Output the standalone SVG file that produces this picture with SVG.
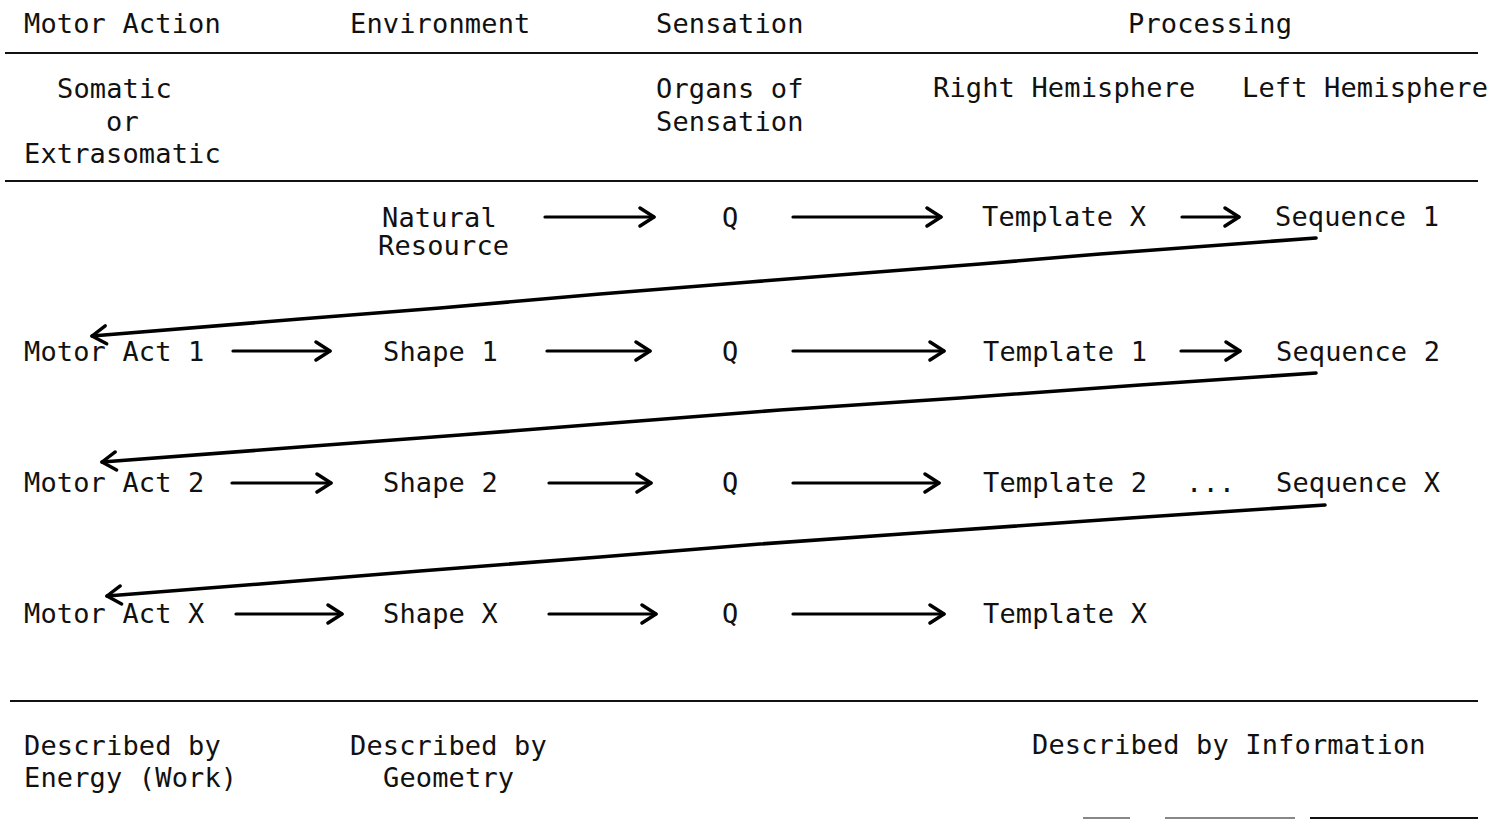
<svg xmlns="http://www.w3.org/2000/svg" width="1497" height="820" viewBox="0 0 1497 820">
<style>
text{font-family:"DejaVu Sans Mono","Liberation Mono",monospace;font-size:27px;letter-spacing:0.15px;fill:#111}
.rule{stroke:#111;stroke-width:2;fill:none}
.faint{stroke:#888;stroke-width:2;fill:none}
.arr{stroke:#000;stroke-width:3.2;fill:none;stroke-linecap:round;marker-end:url(#head)}
.ret{stroke:#000;stroke-width:3.6;fill:none;stroke-linecap:round;stroke-linejoin:round;marker-end:url(#head)}
</style>
<defs>
<marker id="head" markerUnits="userSpaceOnUse" markerWidth="24" markerHeight="24" viewBox="-2 -2 20 24" refX="14" refY="9" orient="auto">
<path d="M0,0 L14,9 L0,18" fill="none" stroke="#000" stroke-width="3.4" stroke-linecap="round" stroke-linejoin="round"/>
</marker>
</defs>
<rect width="1497" height="820" fill="#fff"/>

<g id="rules">
<line class="rule" x1="5" y1="53" x2="1478" y2="53"/>
<line class="rule" x1="5" y1="181" x2="1478" y2="181"/>
<line class="rule" x1="10" y1="701" x2="1478" y2="701"/>
<line class="faint" x1="1083" y1="818" x2="1130" y2="818"/>
<line class="faint" x1="1165" y1="818" x2="1295" y2="818"/>
<line class="rule" x1="1310" y1="818" x2="1478" y2="818"/>
</g>

<g id="headers">
<text x="24" y="33">Motor Action</text>
<text x="350" y="33">Environment</text>
<text x="656" y="33">Sensation</text>
<text x="1128" y="33">Processing</text>
<text x="57" y="98">Somatic</text>
<text x="106" y="131">or</text>
<text x="24" y="163">Extrasomatic</text>
<text x="656" y="98">Organs of</text>
<text x="656" y="131">Sensation</text>
<text x="933" y="97">Right Hemisphere</text>
<text x="1242" y="97">Left Hemisphere</text>
</g>

<g id="row1">
<g id="natural-resource"><text x="382" y="227">Natural</text><text x="378" y="255">Resource</text></g>
<g id="q1"><text x="722" y="227">Q</text></g>
<g id="template-x1"><text x="982" y="226">Template X</text></g>
<g id="sequence-1"><text x="1275" y="226">Sequence 1</text></g>
</g>

<g id="row2">
<g id="motor-act-1"><text x="24" y="361">Motor Act 1</text></g>
<g id="shape-1"><text x="383" y="361">Shape 1</text></g>
<g id="q2"><text x="722" y="361">Q</text></g>
<g id="template-1"><text x="983" y="361">Template 1</text></g>
<g id="sequence-2"><text x="1276" y="361">Sequence 2</text></g>
</g>

<g id="row3">
<g id="motor-act-2"><text x="24" y="492">Motor Act 2</text></g>
<g id="shape-2"><text x="383" y="492">Shape 2</text></g>
<g id="q3"><text x="722" y="492">Q</text></g>
<g id="template-2"><text x="983" y="492">Template 2</text></g>
<g id="ellipsis"><text x="1186" y="492">...</text></g>
<g id="sequence-x"><text x="1276" y="492">Sequence X</text></g>
</g>

<g id="row4">
<g id="motor-act-x"><text x="24" y="623">Motor Act X</text></g>
<g id="shape-x"><text x="383" y="623">Shape X</text></g>
<g id="q4"><text x="722" y="623">Q</text></g>
<g id="template-x2"><text x="983" y="623">Template X</text></g>
</g>

<g id="footers">
<text x="24" y="755">Described by</text>
<text x="24" y="787">Energy (Work)</text>
<text x="350" y="755">Described by</text>
<text x="383" y="787">Geometry</text>
<text x="1032" y="754">Described by Information</text>
</g>

<g id="connectors">
<line class="arr" x1="545" y1="217" x2="654" y2="217"/>
<line class="arr" x1="793" y1="217" x2="941" y2="217"/>
<line class="arr" x1="1182" y1="217" x2="1239" y2="217"/>

<line class="arr" x1="233" y1="351" x2="330" y2="351"/>
<line class="arr" x1="547" y1="351" x2="650" y2="351"/>
<line class="arr" x1="793" y1="351" x2="944" y2="351"/>
<line class="arr" x1="1181" y1="351" x2="1240" y2="351"/>

<line class="arr" x1="232" y1="483" x2="331" y2="483"/>
<line class="arr" x1="549" y1="483" x2="651" y2="483"/>
<line class="arr" x1="793" y1="483" x2="939" y2="483"/>

<line class="arr" x1="236" y1="614" x2="342" y2="614"/>
<line class="arr" x1="549" y1="614" x2="656" y2="614"/>
<line class="arr" x1="793" y1="614" x2="944" y2="614"/>

<path class="ret" d="M1316,238 L1100,254 L980,264 L750,282 L600,294 L440,308 L300,319 L92,336"/>
<path class="ret" d="M1316,373 L1140,385 L960,398 L780,410 L600,424 L460,435 L300,447 L102,462"/>
<path class="ret" d="M1325,505 L1130,518 L930,532 L760,544 L600,557 L420,571 L260,584 L107,596"/>
</g>
</svg>
